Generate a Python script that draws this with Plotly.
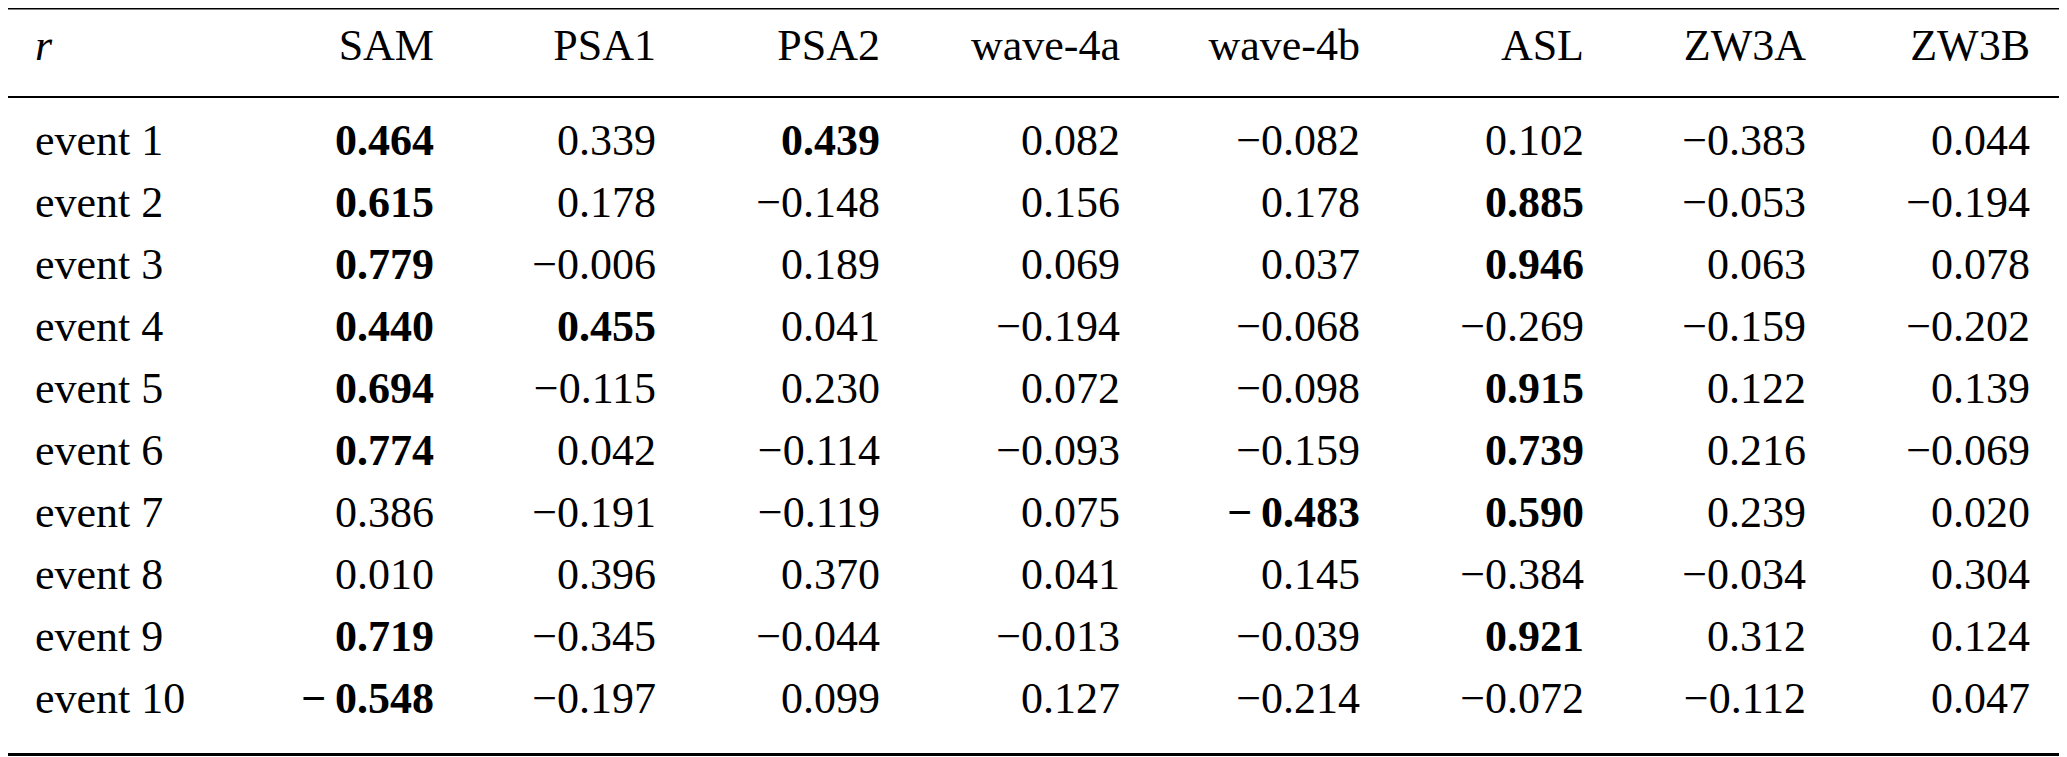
import plotly.graph_objects as go

# correlation table: events vs. circulation indices
events = ["event 1", "event 2", "event 3", "event 4", "event 5",
          "event 6", "event 7", "event 8", "event 9", "event 10"]
indices = ["SAM", "PSA1", "PSA2", "wave-4a", "wave-4b", "ASL", "ZW3A", "ZW3B"]

sam = [0.464, 0.615, 0.779, 0.440, 0.694, 0.774, 0.386, 0.010, 0.719, -0.548]
psa1 = [0.339, 0.178, -0.006, 0.455, -0.115, 0.042, -0.191, 0.396, -0.345, -0.197]
psa2 = [0.439, -0.148, 0.189, 0.041, 0.230, -0.114, -0.119, 0.370, -0.044, 0.099]
wave4a = [0.082, 0.156, 0.069, -0.194, 0.072, -0.093, 0.075, 0.041, -0.013, 0.127]
wave4b = [-0.082, 0.178, 0.037, -0.068, -0.098, -0.159, -0.483, 0.145, -0.039, -0.214]
asl = [0.102, 0.885, 0.946, -0.269, 0.915, 0.739, 0.590, -0.384, 0.921, -0.072]
zw3a = [-0.383, -0.053, 0.063, -0.159, 0.122, 0.216, 0.239, -0.034, 0.312, -0.112]
zw3b = [0.044, -0.194, 0.078, -0.202, 0.139, -0.069, 0.020, 0.304, 0.124, 0.047]

# rows (0-based) printed in bold in each column
sig_sam = [0, 1, 2, 3, 4, 5, 8, 9]
sig_psa1 = [3]
sig_psa2 = [0]
sig_wave4a = []
sig_wave4b = [6]
sig_asl = [1, 2, 4, 5, 6, 8]
sig_zw3a = []
sig_zw3b = []

columns = [sam, psa1, psa2, wave4a, wave4b, asl, zw3a, zw3b]
significant = [sig_sam, sig_psa1, sig_psa2, sig_wave4a, sig_wave4b,
               sig_asl, sig_zw3a, sig_zw3b]

# the page keeps the browser's 8px body margin, so the figure is 8px smaller
# and the axes start at 8 to keep reference pixel positions
PAD = 8
W, H = 2067, 757
FONT = "Liberation Serif"
FS = 44
col_right = [434, 656, 880, 1120, 1360, 1584, 1806, 2030]
label_x = 35
header_y = 49
row_y = [144 + 62 * i for i in range(len(events))]


def fmt(v, bold):
    s = f"{abs(v):.3f}"
    if v < 0:
        s = ("\u2212\u2009" if bold else "\u2212") + s
    return f"<b>{s}</b>" if bold else s


fig = go.Figure()


def cell(x, y, txt, pos):
    # one text mark per cell
    fig.add_trace(go.Scatter(
        x=[x], y=[y], text=[txt], mode="text", textposition=pos,
        textfont=dict(family=FONT, size=FS, color="black"),
        showlegend=False,
    ))


# header row
cell(label_x, header_y, "<i>r</i>", "middle right")
for name, xr in zip(indices, col_right):
    cell(xr, header_y, name, "middle left")

# body
for i, ev in enumerate(events):
    cell(label_x, row_y[i], ev, "middle right")
    for vals, sig, xr in zip(columns, significant, col_right):
        cell(xr, row_y[i], fmt(vals[i], i in sig), "middle left")

# booktabs style rules
for yy, w in [(97, 2), (754.5, 3)]:
    fig.add_shape(type="line", xref="paper", x0=0, x1=1, yref="y", y0=yy, y1=yy,
                  line=dict(color="black", width=w))
fig.add_shape(type="line", xref="paper", x0=0, x1=1, yref="paper", y0=1, y1=1,
              line=dict(color="black", width=3))

fig.update_xaxes(range=[PAD, W], visible=False)
fig.update_yaxes(range=[H, PAD], visible=False)
fig.update_layout(
    width=W - PAD, height=H - PAD,
    margin=dict(l=0, r=0, t=0, b=0),
    paper_bgcolor="white", plot_bgcolor="white",
)

fig.write_html("out.html")
